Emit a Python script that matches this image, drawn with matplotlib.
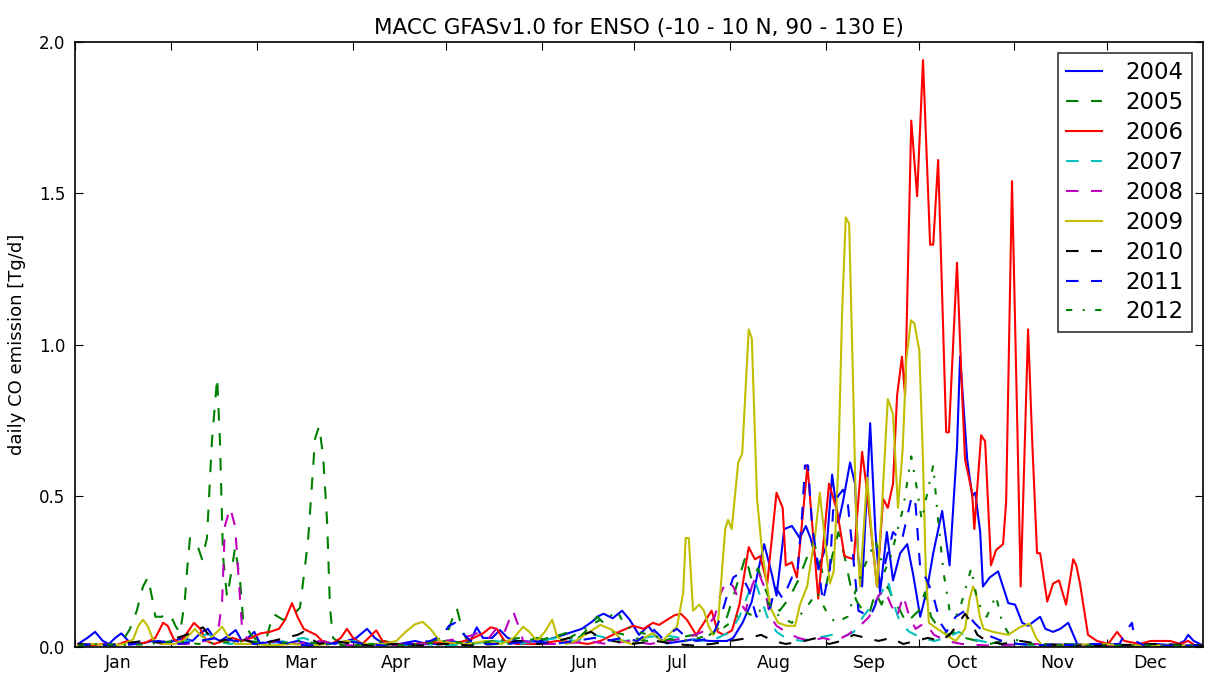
import matplotlib
matplotlib.use("Agg")
import matplotlib.pyplot as plt
import numpy as np

years = ["2004", "2005", "2006", "2007", "2008", "2009", "2010", "2011", "2012"]
months = ["Jan", "Feb", "Mar", "Apr", "May", "Jun", "Jul", "Aug", "Sep", "Oct", "Nov", "Dec"]
month_start = [0, 31, 59, 90, 120, 151, 181, 212, 243, 273, 304, 334]

d2004 = [1,4,6.5,9,11,13,15,18,21,25,28,32,35,38,41,43,45,47,50,52,54,56,58,60,64,68,72,76,80,84,88,91,94.5,97,100,105,110,114,118,122,126,128,130,132,135,137.5,140,143,147,151,155,158,161,164,167.5,169,171,174,177,179.5,182.5,185.5,188,191.5,197,200,205.5,211,213,216,219,221,223,225.5,227,229.5,232,234.5,236.5,238,240.5,243.3,245,247,248.5,250.8,252.4,253.4,254.7,257.3,259,260.5,262.7,264.7,267,269.3,271.2,273.5,275.7,277.7,280.6,283,285.4,286.4,288.7,290.3,291.3,292.9,293.8,296,298.7,302,304.2,306.5,308.4,312.3,314,316.5,318.8,321.4,324.3,328,335,342,350,356,359,360.2,362,365]
v2004 = [0.01,0.03,0.05,0.02,0.01,0.03,0.045,0.012,0.01,0.02,0.01,0.02,0.03,0.02,0.05,0.06,0.03,0.02,0.04,0.056,0.02,0.03,0.05,0.01,0.02,0.01,0.02,0.01,0.02,0.01,0.02,0.03,0.06,0.03,0.01,0.01,0.02,0.01,0.01,0.02,0.01,0.02,0.065,0.03,0.03,0.056,0.03,0.02,0.018,0.02,0.03,0.04,0.05,0.06,0.085,0.1,0.11,0.095,0.12,0.09,0.04,0.07,0.035,0.012,0.02,0.025,0.02,0.02,0.03,0.08,0.15,0.25,0.34,0.24,0.17,0.39,0.4,0.36,0.4,0.36,0.26,0.34,0.57,0.41,0.48,0.61,0.54,0.3,0.2,0.74,0.38,0.18,0.38,0.22,0.31,0.34,0.24,0.1,0.19,0.31,0.45,0.27,0.66,0.96,0.62,0.5,0.51,0.38,0.2,0.23,0.25,0.145,0.14,0.08,0.07,0.1,0.06,0.05,0.06,0.08,0.01,0.005,0.01,0.005,0.01,0.005,0.02,0.04,0.02,0.005]

d2005 = [1,5,10,14,16,17.8,20,22,23.6,25,26,28,30.7,32.5,34,35.5,36.2,37.2,39.5,41.1,42.7,44.3,46,46.9,47.9,49.2,50.8,51.8,53.4,54.4,56.6,59,62,64.1,67.3,70,72.8,75.4,77.7,79,80.3,81.6,82.5,83.5,86,90,95,100,104,108,112,116,119,121,122,123.5,125.5,127,130,135,140,145,150,153,157,160,163,166,169,171,174,178,181,185,190,195,200,204,208,211,214,217,219,221,223,225,228,231,234,237,239,241,243,245,247,249,251,253,255,257,259,261,263,265,267,269,271,273,275,277,279,282,285,288,292,296,300,305,312,320,330,345,365]
v2005 = [0.005,0.01,0.005,0.01,0.03,0.06,0.12,0.2,0.23,0.16,0.1,0.1,0.11,0.07,0.046,0.15,0.245,0.36,0.34,0.29,0.36,0.68,0.89,0.68,0.3,0.165,0.26,0.33,0.22,0.09,0.046,0.02,0.03,0.11,0.09,0.1,0.13,0.35,0.69,0.73,0.63,0.41,0.13,0.03,0.01,0.005,0.01,0.02,0.01,0.005,0.01,0.02,0.03,0.06,0.09,0.13,0.05,0.02,0.01,0.02,0.01,0.02,0.03,0.02,0.04,0.05,0.03,0.06,0.1,0.08,0.05,0.04,0.03,0.02,0.02,0.03,0.04,0.03,0.06,0.1,0.2,0.3,0.22,0.26,0.2,0.15,0.12,0.16,0.22,0.3,0.35,0.28,0.2,0.3,0.38,0.3,0.2,0.15,0.12,0.11,0.18,0.14,0.2,0.15,0.12,0.08,0.1,0.12,0.18,0.1,0.07,0.04,0.05,0.03,0.02,0.01,0.02,0.01,0.005,0.01,0.005,0.005,0.005]

d2006 = [1,5,9,13,17,20,23,26,28.5,30,32,34,36.5,38.5,40.5,42.5,45,48,51,54,57,60,63,66,68,70.2,72,74,76,78,80,83,86,88,90,93,95,97.5,99.5,103,110,117,122,126,129,132,134.5,136.5,139,143,150,156,161,166,170,174,176,180.6,184,187,189,191.6,194,196,198,201,203.5,206,208,210,212.6,215,218,220,221.7,224,227,229,230,232,233.6,237,240.5,244,246.6,249,252,254.7,256,259.5,261.5,263,264.7,266,267.6,268.6,270.6,272.5,274.4,276.7,277.7,279.3,281.9,282.8,285.4,287,288,290.3,291,293.2,294.5,296.4,298,300.3,301.3,303.2,305,306,308.4,309.7,311.3,312.3,314.6,316.5,318.4,320.7,323,324,325.2,327.8,330.7,334.3,337.2,339.5,344.7,348,351,354.4,357.6,360.2,362.5,365]
v2006 = [0.01,0.005,0.01,0.005,0.02,0.01,0.015,0.03,0.08,0.07,0.025,0.015,0.05,0.08,0.06,0.02,0.01,0.02,0.03,0.02,0.03,0.045,0.05,0.06,0.09,0.145,0.1,0.06,0.05,0.04,0.02,0.01,0.03,0.06,0.03,0.01,0.03,0.055,0.02,0.01,0.01,0.015,0.01,0.02,0.03,0.045,0.065,0.06,0.02,0.01,0.01,0.02,0.017,0.01,0.02,0.04,0.05,0.07,0.06,0.08,0.073,0.09,0.105,0.11,0.09,0.04,0.08,0.12,0.05,0.04,0.055,0.14,0.33,0.29,0.3,0.21,0.51,0.46,0.27,0.28,0.23,0.6,0.16,0.54,0.45,0.3,0.29,0.645,0.54,0.2,0.49,0.46,0.54,0.83,0.96,0.83,1.74,1.49,1.94,1.33,1.33,1.61,0.71,0.71,1.27,0.85,0.62,0.51,0.39,0.7,0.68,0.27,0.32,0.34,0.48,1.54,0.69,0.2,1.05,0.69,0.31,0.31,0.15,0.21,0.22,0.14,0.29,0.27,0.21,0.04,0.02,0.01,0.05,0.02,0.01,0.02,0.02,0.02,0.01,0.02,0.005,0.0]

d2007 = [1,6,12,18,24,30,36,40,43,46,50,56,62,68,74,78,84,90,96,104,112,120,128,136,144,150,156,162,168,172,178,184,190,196,202,208,212,215,218,220,222,224,227,230,235,240,245,248,252,255,258,261,263,265,267,270,274,278,282,286,289,293,298,305,315,330,345,365]
v2007 = [0.005,0.01,0.005,0.01,0.02,0.01,0.02,0.03,0.045,0.02,0.01,0.02,0.01,0.02,0.03,0.015,0.01,0.02,0.01,0.005,0.01,0.005,0.01,0.02,0.01,0.02,0.03,0.02,0.04,0.03,0.02,0.03,0.04,0.03,0.02,0.03,0.05,0.1,0.18,0.22,0.16,0.1,0.05,0.03,0.02,0.03,0.04,0.03,0.05,0.1,0.14,0.18,0.22,0.14,0.08,0.05,0.03,0.02,0.03,0.05,0.03,0.02,0.01,0.005,0.01,0.005,0.005,0.005]

d2008 = [1,6,12,18,24,30,36,42,45,46.3,47.6,48.5,50.2,51.8,52.8,54,56,60,66,72,78,84,90,98,106,114,120,125,129,131,134,137,139,141.7,143.5,145,150,158,166,172,180,186,192,198,203,207,209,211,213,215,217,219,221,223,225,227,230,234,238,242,246,250,254,257,260,262,264,266,268,270,272,275,278,282,287,295,310,330,365]
v2008 = [0.005,0.01,0.005,0.01,0.02,0.01,0.01,0.02,0.03,0.05,0.15,0.4,0.46,0.4,0.25,0.07,0.02,0.01,0.02,0.01,0.02,0.01,0.005,0.01,0.005,0.01,0.02,0.03,0.04,0.05,0.03,0.07,0.05,0.12,0.07,0.02,0.01,0.01,0.02,0.01,0.02,0.01,0.02,0.03,0.05,0.1,0.18,0.22,0.2,0.15,0.12,0.2,0.25,0.2,0.1,0.07,0.05,0.03,0.02,0.03,0.02,0.04,0.07,0.1,0.17,0.19,0.14,0.1,0.17,0.1,0.06,0.08,0.04,0.02,0.01,0.005,0.01,0.005,0.005]

d2009 = [1,6,12,16,18.8,20.5,22,23.5,25.2,28,32,35,37,38.8,40.5,43,45,47.6,49.5,52,58,64,70,76,82,88,94,100,104,107,110,112.5,115,118,121,127,133,138,142,145,147,149.5,152,154.4,156,159,162,165.7,170,174,177,180,184,187,190,192,194.8,196.8,197.6,198.6,200,202,203.5,205,206.5,208,210.4,211.3,212.5,214.6,215.9,218,219,220.7,222.3,225,227.5,230.4,233,234.6,236.9,239.5,241,242.7,244.3,245.5,247,248.2,249.4,250.5,251.7,252.7,254,256.3,258,259.5,261,263,264.7,266.3,267.8,269,270.5,271.6,273.2,274.3,275.3,276.3,279,282,285,288,289.5,290.6,291.5,292.8,294,297,302,305.8,309,311,313,320,330,345,365]
v2009 = [0.005,0.01,0.005,0.01,0.025,0.07,0.09,0.07,0.025,0.01,0.01,0.02,0.04,0.06,0.04,0.02,0.04,0.067,0.035,0.01,0.01,0.005,0.01,0.005,0.01,0.02,0.01,0.01,0.02,0.05,0.075,0.083,0.06,0.02,0.015,0.01,0.02,0.01,0.03,0.067,0.05,0.02,0.05,0.09,0.035,0.01,0.02,0.045,0.073,0.056,0.02,0.01,0.03,0.046,0.018,0.04,0.067,0.18,0.36,0.36,0.12,0.14,0.12,0.07,0.04,0.07,0.39,0.42,0.39,0.61,0.64,1.05,1.02,0.49,0.32,0.13,0.08,0.07,0.07,0.14,0.2,0.37,0.51,0.35,0.21,0.25,0.6,1.1,1.42,1.4,0.9,0.45,0.2,0.56,0.35,0.2,0.44,0.82,0.77,0.46,0.65,0.95,1.08,1.07,0.98,0.65,0.25,0.08,0.06,0.04,0.02,0.06,0.16,0.2,0.18,0.1,0.06,0.05,0.04,0.066,0.077,0.03,0.005,0.005,0.01,0.005,0.005]

d2010 = [1,8,15,22,28,33,36,38,41.4,44,47,52,56,60,64,68,72,74,76,79,84,90,96,104,112,120,128,136,144,150,156,160,164,167,170,174,180,188,194,200,206,212,218,222,226,230,236,240,244,248,252,256,260,264,268,272,276,280,283,286,288,290,292,295,300,306,312,320,335,350,365]
v2010 = [0.01,0.005,0.01,0.02,0.015,0.03,0.04,0.05,0.065,0.03,0.02,0.03,0.02,0.01,0.02,0.03,0.04,0.05,0.03,0.01,0.02,0.01,0.005,0.01,0.005,0.01,0.005,0.01,0.02,0.01,0.02,0.03,0.04,0.05,0.03,0.02,0.01,0.02,0.01,0.005,0.01,0.02,0.03,0.04,0.02,0.01,0.02,0.03,0.01,0.02,0.04,0.03,0.02,0.03,0.01,0.02,0.03,0.02,0.04,0.08,0.11,0.08,0.04,0.02,0.01,0.02,0.01,0.005,0.005,0.01,0.005]

d2011 = [1,7,14,20,27,33,40,46,52,58,64,70,76,82,88,94,100,108,115,119,121,123,125,128,132,140,148,155,162,168,172,177,182,187,190,194.8,198,201,206,209,211,213,214.6,216.5,218,220.5,222.7,225,226.5,229,232,233.6,235.3,236.2,237.2,238.5,240.5,242,244.3,245.3,247,248.5,250,251.5,253.5,257.3,259,262.7,264.7,267.5,270.8,272,273.5,275.7,277.7,280,282,285,288,291,295,300,305,315,330,338,340,342,343,346,355,365]
v2011 = [0.005,0.01,0.005,0.01,0.02,0.01,0.02,0.03,0.02,0.01,0.02,0.01,0.005,0.01,0.02,0.01,0.005,0.01,0.02,0.04,0.07,0.08,0.05,0.02,0.01,0.01,0.02,0.01,0.02,0.03,0.02,0.03,0.02,0.06,0.03,0.06,0.03,0.02,0.03,0.1,0.17,0.23,0.24,0.22,0.19,0.1,0.12,0.13,0.2,0.16,0.23,0.23,0.44,0.6,0.6,0.4,0.27,0.15,0.26,0.45,0.5,0.52,0.48,0.33,0.12,0.1,0.14,0.3,0.38,0.35,0.5,0.47,0.26,0.22,0.17,0.08,0.05,0.1,0.12,0.08,0.04,0.02,0.01,0.005,0.01,0.01,0.05,0.08,0.02,0.005,0.005,0.005]

d2012 = [1,8,16,24,32,40,48,56,64,72,80,88,96,104,112,120,128,136,144,150,156,160,165,170,173,175.4,178,182,186,190,196,202,208,212,216,220,224,228,232,236,240,243,246,250,253,256,259,262,264,266,268,270.6,272,274,276,277.7,279,281,283,285,287,290,292,295,298,300,303,308,320,340,365]
v2012 = [0.005,0.01,0.005,0.01,0.02,0.01,0.015,0.02,0.01,0.02,0.01,0.005,0.01,0.005,0.01,0.02,0.01,0.02,0.03,0.02,0.04,0.03,0.06,0.09,0.1,0.12,0.07,0.05,0.04,0.03,0.02,0.03,0.05,0.08,0.12,0.1,0.15,0.1,0.08,0.12,0.18,0.12,0.08,0.1,0.2,0.28,0.35,0.25,0.3,0.38,0.46,0.63,0.55,0.42,0.52,0.6,0.45,0.25,0.12,0.1,0.15,0.26,0.15,0.1,0.17,0.08,0.03,0.01,0.005,0.005,0.005]

series_days = [d2004, d2005, d2006, d2007, d2008, d2009, d2010, d2011, d2012]
series_vals = [v2004, v2005, v2006, v2007, v2008, v2009, v2010, v2011, v2012]

colors = ["#0000ff", "#008000", "#ff0000", "#00bfbf", "#bf00bf", "#bfbf00", "#000000", "#0000ff", "#008000"]
styles = ["-", "--", "-", "--", "--", "-", "--", "--", "-."]

fig = plt.figure(figsize=(12.06, 6.73), dpi=100)
ax = fig.add_axes([75/1206, 26/673, 1128/1206, 605/673])

for y, d, v, c, ls in zip(years, series_days, series_vals, colors, styles):
    line, = ax.plot(d, v, color=c, linestyle=ls, linewidth=1.5, label=y)
    if ls == "--":
        line.set_dashes((6, 6))
    elif ls == "-.":
        line.set_dashes((3, 5, 1, 5))

ax.set_xlim(0, 365)
ax.set_ylim(0, 2.0)
ax.set_xticks(month_start)
ax.set_xticklabels([])
ax.set_xticks([m + 14 for m in month_start], minor=True)
ax.set_xticklabels(months, minor=True, fontsize=12.5)
ax.tick_params(axis="x", which="major", direction="in", length=6, top=True, bottom=True)
ax.tick_params(axis="x", which="minor", length=0, pad=5)
ax.set_yticks([0.0, 0.5, 1.0, 1.5, 2.0])
ax.set_yticklabels(["0.0", "0.5", "1.0", "1.5", "2.0"], fontsize=12)
ax.tick_params(axis="y", direction="in", length=6, left=True, right=True, pad=7)
for s in ax.spines.values():
    s.set_linewidth(1.2)

ax.set_ylabel("daily CO emission [Tg/d]", fontsize=13, labelpad=9)
ax.set_title("MACC GFASv1.0 for ENSO (-10 - 10 N, 90 - 130 E)", fontsize=15.5, pad=6)

leg = ax.legend(loc="upper right", fontsize=16.5, handlelength=1.6, handletextpad=1.0,
                labelspacing=0.3, borderpad=0.35, frameon=True, fancybox=False,
                borderaxespad=0.5)
leg.get_frame().set_edgecolor("black")
leg.get_frame().set_linewidth(1.2)

fig.savefig("out.png", dpi=100, facecolor="white")
